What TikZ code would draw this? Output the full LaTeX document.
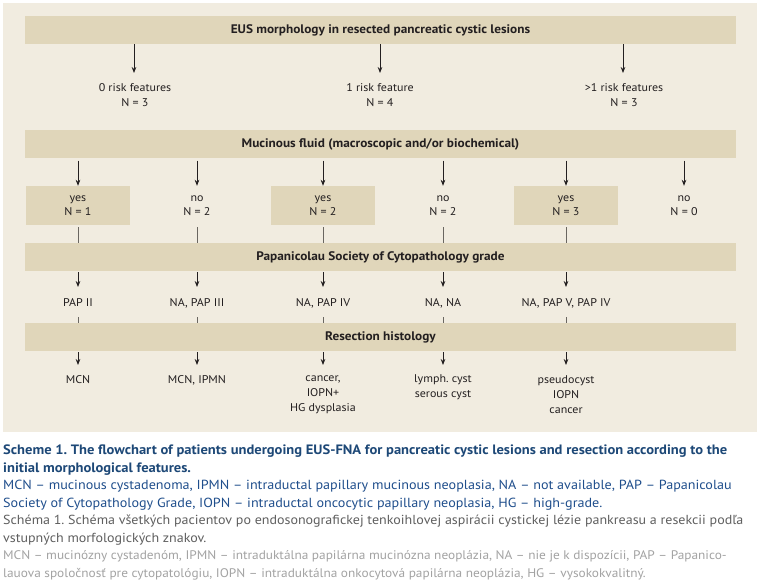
\documentclass[tikz,border=0pt]{standalone}
\usepackage{fontspec}
\setmainfont{PT Sans}[FakeStretch=1.07]
\usetikzlibrary{arrows.meta}
\frenchspacing
\definecolor{bg}{HTML}{F1ECE0}
\definecolor{barc}{HTML}{E0D6BA}
\definecolor{ink}{HTML}{231F20}
\definecolor{lnc}{HTML}{6A6660}
\definecolor{capbold}{HTML}{1D4877}
\definecolor{capblue}{HTML}{1F4E8C}
\definecolor{capgrey}{HTML}{5F5F5F}
\definecolor{caplight}{HTML}{A3A3A3}
\begin{document}
\begin{tikzpicture}[x=1pt,y=-1pt,
  bar/.style={fill=barc, draw=none, minimum width=711pt, minimum height=28pt, inner sep=0pt,
    font=\bfseries\fontsize{12.4}{14}\selectfont, text=ink},
  lbl/.style={align=center, font=\fontsize{11.2}{15}\selectfont, text=ink, inner sep=0pt},
  ybox/.style={fill=barc, minimum width=104pt, minimum height=39pt, inner sep=0pt, align=center,
    font=\fontsize{11.2}{13.5}\selectfont, text=ink},
  nbox/.style={ybox, fill=none},
  arr/.style={draw=ink, line width=0.8pt, -{Stealth[length=6pt,width=4.6pt]}},
  ln/.style={draw=lnc, line width=0.8pt},
  captxt/.style={anchor=base west, inner sep=0pt},
  capb/.style={captxt, text=capbold, font=\bfseries\fontsize{13.6}{15}\selectfont},
  capr/.style={captxt, text=capblue, font=\fontsize{13.2}{15}\selectfont},
  capg/.style={captxt, text=capgrey, font=\fontsize{13.1}{15}\selectfont},
  capl/.style={captxt, text=caplight, font=\fontsize{12.45}{15}\selectfont}]
\useasboundingbox (0,0) rectangle (757,580);
\fill[white] (0,0) rectangle (757,580);
\fill[bg] (3,3) rectangle (757,432);

% bars
\node[bar] (b1) at (380.5,30) {EUS morphology in resected pancreatic cystic lesions};
\node[bar] (b2) at (380.5,144.5) {Mucinous fluid (macroscopic and/or biochemical)};
\node[bar] (b3) at (380.5,257) {Papanicolau Society of Cytopathology grade};
\node[bar] (b4) at (380.5,337) {Resection histology};

% risk row
\node[lbl] (r1) at (135,95.5) {0 risk features\\N = 3};
\node[lbl] (r2) at (380,95.5) {1 risk feature\\N = 4};
\node[lbl] (r3) at (624,95.5) {>1 risk features\\N = 3};
\coordinate (e1) at (134,73);
\coordinate (e2) at (380,73);
\coordinate (e3) at (623,73);
\draw[arr] (b1.south -| e1) -- (e1);
\draw[arr] (b1.south -| e2) -- (e2);
\draw[arr] (b1.south -| e3) -- (e3);

% mucinous row
\node[ybox] (m1) at (78,205.5) {yes\\N = 1};
\node[nbox] (m2) at (197,205.5) {no\\N = 2};
\node[ybox] (m3) at (323,205.5) {yes\\N = 2};
\node[nbox] (m4) at (443,205.5) {no\\N = 2};
\node[ybox] (m5) at (566,205.5) {yes\\N = 3};
\node[nbox] (m6) at (684,205.5) {no\\N = 0};
\foreach \i in {1,...,6}{
  \draw[arr] ([yshift=-2pt]b2.south -| m\i) -- (m\i.north);
}
\foreach \i in {1,...,5}{
  \draw[ln] ([yshift=-2pt]m\i.south) -- (b3.north -| m\i);
}

% PAP row
\node[lbl] (p1) at (78,303) {PAP II};
\node[lbl] (p2) at (197,303) {NA, PAP III};
\node[lbl] (p3) at (323,303) {NA, PAP IV};
\node[lbl] (p4) at (443,303) {NA, NA};
\node[lbl] (p5) at (566,303) {NA, PAP V, PAP IV};
\foreach \i in {1,...,5}{
  \coordinate (q\i) at (p\i.center |- 0,287);
  \draw[arr] ([yshift=-1pt]b3.south -| q\i) -- (q\i);
  \coordinate (t\i) at (p\i.center |- 0,317);
  \draw[ln] (t\i) -- (b4.north -| t\i);
}

% histology row
\node[lbl] (h1) at (78,380) {MCN};
\node[lbl] (h2) at (197,380) {MCN, IPMN};
\node[lbl] (h3) at (323,395) {cancer,\\IOPN+\\HG dysplasia};
\node[lbl] (h4) at (443,387.5) {lymph. cyst\\serous cyst};
\node[lbl] (h5) at (566,395) {pseudocyst\\IOPN\\cancer};
\foreach \i in {1,...,5}{
  \coordinate (g\i) at (h\i.center |- 0,365);
  \draw[arr] ([yshift=-1pt]b4.south -| g\i) -- (g\i);
}

% caption
\node[capb] (c1) at (3,454.5) {Scheme 1. The flowchart of patients undergoing EUS-FNA for pancreatic cystic lesions and resection according to the};
\node[capb] (c2) at (3,472) {initial morphological features.};
\node[capr] (c3) at (3,489.5) {MCN – mucinous cystadenoma, IPMN – intraductal papillary mucinous neoplasia, NA – not available, PAP – Papanicolau};
\node[capr] (c4) at (3,507) {Society of Cytopathology Grade, IOPN – intraductal oncocytic papillary neoplasia, HG – high-grade.};
\node[capg] (c5) at (3,524.5) {Schéma 1. Schéma všetkých pacientov po endosonografickej tenkoihlovej aspirácii cystickej lézie pankreasu a resekcii podľa};
\node[capg] (c6) at (3,542) {vstupných morfologických znakov.};
\node[capl] (c7) at (3,559.5) {MCN – mucinózny cystadenóm, IPMN – intraduktálna papilárna mucinózna neoplázia, NA – nie je k dispozícii, PAP – Papanico-};
\node[capl] (c8) at (3,577) {lauova spoločnosť pre cytopatológiu, IOPN – intraduktálna onkocytová papilárna neoplázia, HG – vysokokvalitný.};
\end{tikzpicture}
\end{document}
